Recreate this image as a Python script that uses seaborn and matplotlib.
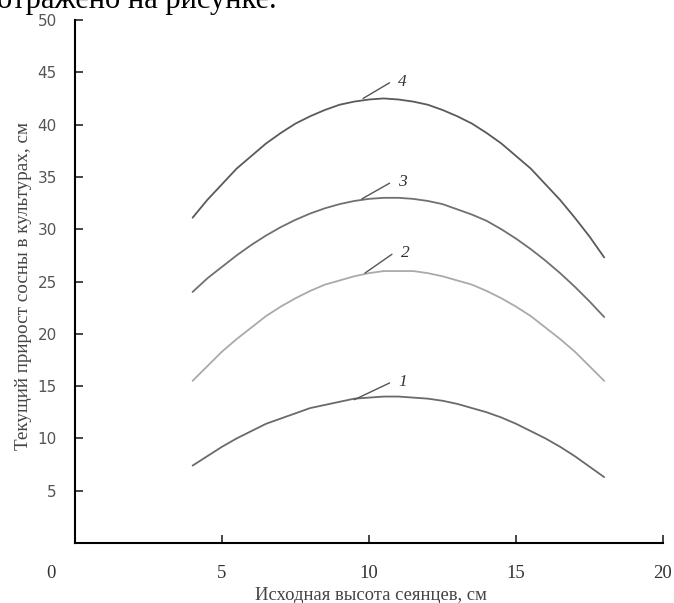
import numpy as np
import pandas as pd
import matplotlib
matplotlib.use("Agg")
import matplotlib.pyplot as plt
import seaborn as sns

# Data (every half centimetre of initial height)
x_height = [4, 4.5, 5, 5.5, 6, 6.5, 7, 7.5, 8, 8.5, 9, 9.5, 10, 10.5, 11,
            11.5, 12, 12.5, 13, 13.5, 14, 14.5, 15, 15.5, 16, 16.5, 17, 17.5, 18]
curve_1 = [7.4, 8.3, 9.2, 10.0, 10.7, 11.4, 11.9, 12.4, 12.9, 13.2, 13.5, 13.8, 13.9, 14.0, 14.0,
           13.9, 13.8, 13.6, 13.3, 12.9, 12.5, 12.0, 11.4, 10.7, 10.0, 9.2, 8.3, 7.3, 6.3]
curve_2 = [15.5, 16.9, 18.3, 19.5, 20.6, 21.7, 22.6, 23.4, 24.1, 24.7, 25.1, 25.5, 25.8, 26.0, 26.0,
           26.0, 25.8, 25.5, 25.1, 24.7, 24.1, 23.4, 22.6, 21.7, 20.6, 19.5, 18.3, 16.9, 15.5]
curve_3 = [24.0, 25.3, 26.4, 27.5, 28.5, 29.4, 30.2, 30.9, 31.5, 32.0, 32.4, 32.7, 32.9, 33.0, 33.0,
           32.9, 32.7, 32.4, 31.9, 31.4, 30.8, 30.0, 29.1, 28.1, 27.0, 25.8, 24.5, 23.1, 21.6]
curve_4 = [31.1, 32.8, 34.3, 35.8, 37.0, 38.2, 39.2, 40.1, 40.8, 41.4, 41.9, 42.2, 42.4, 42.5, 42.4,
           42.2, 41.9, 41.4, 40.8, 40.1, 39.2, 38.2, 37.0, 35.8, 34.3, 32.8, 31.1, 29.3, 27.3]
curve_names = ["1", "2", "3", "4"]
x_ticks = [0, 5, 10, 15, 20]
y_ticks = [0, 5, 10, 15, 20, 25, 30, 35, 40, 45, 50]
# leader-line anchors (start on curve, end near label)
leader_start = {"1": (9.5, 13.7), "2": (9.86, 25.8), "3": (9.76, 32.9), "4": (9.8, 42.5)}
leader_end = {"1": (10.7, 15.3), "2": (10.78, 27.6), "3": (10.7, 34.4), "4": (10.7, 44.0)}

sns.set_style("white")
plt.rcParams["font.family"] = ["Liberation Serif", "DejaVu Serif"]

df = pd.DataFrame({
    "x": x_height * 4,
    "y": curve_1 + curve_2 + curve_3 + curve_4,
    "curve": sum([[n] * len(x_height) for n in curve_names], []),
})
palette = {"1": "#6a6a6a", "2": "#aaaaaa", "3": "#707070", "4": "#5a5a5a"}

fig = plt.figure(figsize=(6.74, 6.03), dpi=100)
ax = fig.add_axes([75 / 674, 1 - 543 / 603, (663 - 75) / 674, (543 - 20) / 603])
sns.lineplot(data=df, x="x", y="y", hue="curve", palette=palette, linewidth=1.3,
             legend=False, ax=ax)

for n in curve_names:
    (x0, y0), (x1, y1) = leader_start[n], leader_end[n]
    ax.plot([x0, x1], [y0, y1], color="#555555", linewidth=1.0)
    ax.text(x1 + 0.3, y1 + 0.1, n, fontsize=12.5, fontstyle="italic", color="#333333",
            ha="left", va="center")

ax.set_xlim(0, 20)
ax.set_ylim(0, 50)
ax.set_xticks(x_ticks)
ax.set_xticklabels([""] + [str(v) for v in x_ticks[1:]])
ax.set_yticks(y_ticks)
ax.set_yticklabels([""] + [str(v) for v in y_ticks[1:]])
for lab in ax.get_yticklabels():
    lab.set_family(["DejaVu Sans"])
ax.tick_params(axis="x", direction="in", length=6, width=1.2, pad=16, labelsize=13.5,
               labelcolor="#333333", bottom=True)
ax.tick_params(axis="y", direction="in", length=6, width=1.2, pad=13, labelsize=11,
               labelcolor="#555555", left=True)
ax.text(-0.82, -2.9, "0", fontsize=13.5, color="#333333", ha="center", va="center",
        clip_on=False)

for s in ["top", "right"]:
    ax.spines[s].set_visible(False)
for s in ["left", "bottom"]:
    ax.spines[s].set_color("black")
    ax.spines[s].set_linewidth(1.5)

ax.set_xlabel("Исходная высота сеянцев, см", fontsize=13.4, color="#444444")
ax.xaxis.set_label_coords(0.503, -0.084)
ax.set_ylabel("Текущий прирост сосны в культурах, см", fontsize=13.8, color="#444444")
ax.yaxis.set_label_coords(-0.073, 0.491)

fig.text(-0.004, 1 - 8 / 603, "отражено на рисунке.", fontsize=22, color="black",
         ha="left", va="baseline")

fig.savefig("out.png", dpi=100)
